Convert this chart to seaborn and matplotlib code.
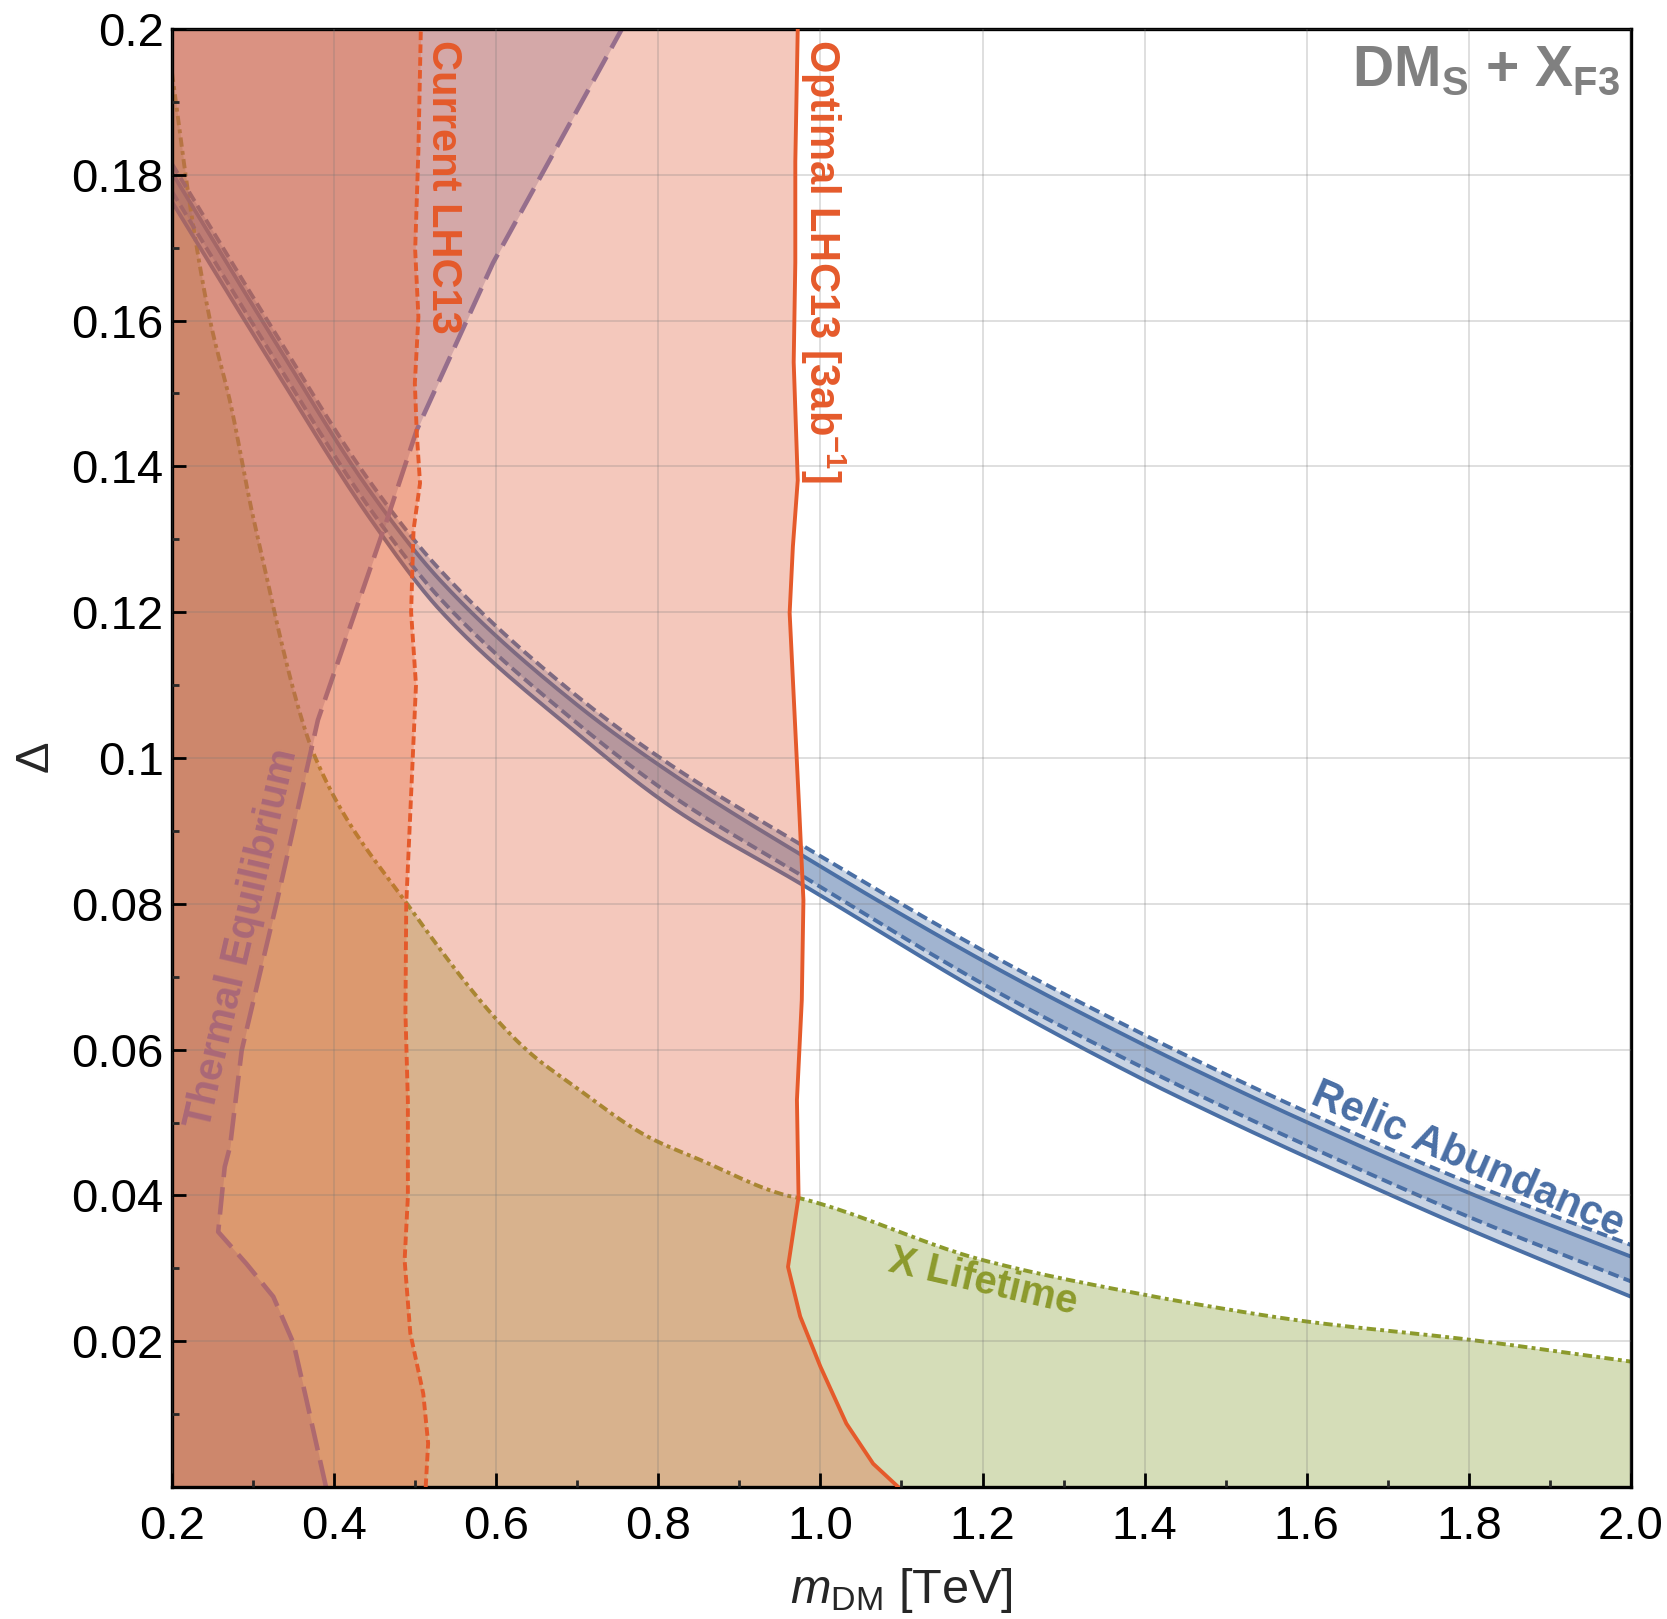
import numpy as np
import matplotlib
matplotlib.use("Agg")
import matplotlib.pyplot as plt
import seaborn as sns

# ---- data ----
# X lifetime boundary: Delta as a function of m_DM (region below is excluded)
life_m = [0.2, 0.222, 0.247, 0.272, 0.300, 0.377, 0.49, 0.637, 0.696, 0.788,
          0.851, 0.958, 0.975, 1.201, 1.403, 1.468, 1.600, 1.801, 2.0]
life_delta = [0.194, 0.176, 0.160, 0.1487, 0.1331, 0.100, 0.080, 0.060, 0.055, 0.048,
              0.0449, 0.040, 0.0396, 0.0311, 0.0263, 0.025, 0.0227, 0.0202, 0.0172]

# relic abundance bands (two bands: solid-edged and dashed-edged)
relic_m = [0.2, 0.3234, 0.4467, 0.5306, 0.6951, 0.8185, 0.978, 1.2215, 1.400,
           1.468, 1.591, 1.801, 2.0]
relic_dash_top = [0.1815, 0.1590, 0.1375, 0.1258, 0.1089, 0.0988, 0.0880, 0.0723,
                  0.0620, 0.0583, 0.0519, 0.0417, 0.0332]
relic_solid_top = [0.1803, 0.1578, 0.1362, 0.1244, 0.1077, 0.0977, 0.0866, 0.0709,
                   0.0606, 0.0569, 0.0505, 0.0403, 0.0316]
relic_dash_bot = [0.1777, 0.1553, 0.1338, 0.1219, 0.1052, 0.0947, 0.0838, 0.0677,
                  0.0574, 0.0537, 0.0473, 0.0370, 0.0282]
relic_solid_bot = [0.1763, 0.1540, 0.1325, 0.1203, 0.1038, 0.0931, 0.0826, 0.0664,
                   0.0558, 0.0521, 0.0457, 0.0353, 0.0261]

# optimal LHC13 [3ab^-1] reach: m_DM as a function of Delta (left side excluded)
opt_delta = [0.0, 0.0032, 0.0087, 0.0165, 0.0234, 0.0302, 0.0398, 0.0531, 0.0668,
             0.0805, 0.0925, 0.1062, 0.1199, 0.129, 0.1381, 0.1543, 0.168, 0.1818, 0.2]
opt_m = [1.096, 1.065, 1.032, 1.000, 0.975, 0.960, 0.973, 0.971, 0.977,
         0.979, 0.974, 0.968, 0.962, 0.966, 0.972, 0.967, 0.969, 0.969, 0.972]

# current LHC13 bound
cur_delta = [0.0, 0.006, 0.0128, 0.0211, 0.0311, 0.0398, 0.053, 0.065, 0.08, 0.09,
             0.10, 0.11, 0.12, 0.1313, 0.1377, 0.1445, 0.1514, 0.1605, 0.1697, 0.1834, 0.2]
cur_m = [0.513, 0.516, 0.510, 0.494, 0.487, 0.491, 0.491, 0.488, 0.489, 0.493,
         0.497, 0.501, 0.495, 0.498, 0.506, 0.502, 0.4996, 0.504, 0.500, 0.504, 0.507]

# thermal equilibrium boundary
therm_delta = [0.0, 0.0119, 0.0197, 0.0261, 0.0306, 0.035, 0.0439, 0.0467, 0.0599,
               0.0801, 0.1052, 0.1326, 0.145, 0.1679, 0.2]
therm_m = [0.390, 0.366, 0.350, 0.325, 0.292, 0.257, 0.265, 0.2716, 0.286,
           0.329, 0.380, 0.465, 0.502, 0.596, 0.755]

x_ticks = [0.2, 0.4, 0.6, 0.8, 1.0, 1.2, 1.4, 1.6, 1.8, 2.0]
x_ticklabels = ["0.2", "0.4", "0.6", "0.8", "1.0", "1.2", "1.4", "1.6", "1.8", "2.0"]
y_ticks = [0.02, 0.04, 0.06, 0.08, 0.10, 0.12, 0.14, 0.16, 0.18, 0.20]
y_ticklabels = ["0.02", "0.04", "0.06", "0.08", "0.1", "0.12", "0.14", "0.16", "0.18", "0.2"]

# ---- colours ----
c_life_line = "#8c9a2c"
c_life_fill = "#98aa4e"
c_relic = "#4a6fa5"
c_lhc_line = "#e55a2b"
c_opt_fill = "#e0623f"
c_cur_fill = "#e8602c"
c_therm_fill = "#996d83"
c_therm_line = "#966e8c"


def smooth(x, y, n=25):
    # monotone cubic (pchip-style) curve through the read points, for drawing only
    x = np.asarray(x, float)
    y = np.asarray(y, float)
    h = np.diff(x)
    d = np.diff(y) / h
    m = np.zeros_like(y)
    m[0], m[-1] = d[0], d[-1]
    for k in range(1, len(x) - 1):
        if d[k - 1] * d[k] > 0:
            w1 = 2 * h[k] + h[k - 1]
            w2 = h[k] + 2 * h[k - 1]
            m[k] = (w1 + w2) / (w1 / d[k - 1] + w2 / d[k])
    xs, ys = [], []
    for k in range(len(x) - 1):
        t = np.linspace(0, 1, n, endpoint=(k == len(x) - 2))
        h00 = 2 * t**3 - 3 * t**2 + 1
        h10 = t**3 - 2 * t**2 + t
        h01 = -2 * t**3 + 3 * t**2
        h11 = t**3 - t**2
        xs.append(x[k] + t * h[k])
        ys.append(h00 * y[k] + h10 * h[k] * m[k] + h01 * y[k + 1] + h11 * h[k] * m[k + 1])
    return np.concatenate(xs), np.concatenate(ys)


sns.set_theme(style="ticks")
plt.rcParams["font.family"] = ["Liberation Sans", "DejaVu Sans"]
plt.rcParams["mathtext.fontset"] = "custom"
plt.rcParams["mathtext.rm"] = "Liberation Sans"
plt.rcParams["mathtext.it"] = "Liberation Sans:italic"
plt.rcParams["mathtext.bf"] = "Liberation Sans:bold"

fig = plt.figure(figsize=(16.67, 16.19), dpi=100)
ax = fig.add_axes([0.10318, 0.08153, 0.87522, 0.90056])

lw = 2.8

# lifetime region (bottom layer)
lx, ly = smooth(life_m, life_delta)
ax.fill_between(lx, 0, ly, color=c_life_fill, alpha=0.4, lw=0, zorder=1)

# relic bands
rx, r_dt = smooth(relic_m, relic_dash_top)
_, r_st = smooth(relic_m, relic_solid_top)
_, r_db = smooth(relic_m, relic_dash_bot)
_, r_sb = smooth(relic_m, relic_solid_bot)
ax.fill_between(rx, r_sb, r_st, color=c_relic, alpha=0.3, lw=0, zorder=1.1)
ax.fill_between(rx, r_db, r_dt, color=c_relic, alpha=0.3, lw=0, zorder=1.1)

sns.lineplot(x=lx, y=ly, ax=ax, color=c_life_line, lw=lw, sort=False,
             estimator=None, linestyle=(0, (2.4, 1.1, 1.0, 1.1)), zorder=1.2)
for arr, ls in [(r_dt, (0, (2.8, 1.4))), (r_st, "-"), (r_db, (0, (2.8, 1.4))), (r_sb, "-")]:
    sns.lineplot(x=rx, y=arr, ax=ax, color=c_relic, lw=lw, sort=False,
                 estimator=None, linestyle=ls, zorder=1.3)

# LHC and thermal regions
ax.fill_betweenx(opt_delta, 0.0, opt_m, color=c_opt_fill, alpha=0.35, lw=0, zorder=1.4)
ax.fill_betweenx(therm_delta, 0.0, therm_m, color=c_therm_fill, alpha=0.35, lw=0, zorder=1.5)
sns.lineplot(x=therm_m, y=therm_delta, ax=ax, color=c_therm_line, lw=3.3, sort=False,
             estimator=None, linestyle=(0, (6, 2.2)), zorder=1.55)
ax.fill_betweenx(cur_delta, 0.0, cur_m, color=c_cur_fill, alpha=0.3, lw=0, zorder=1.6)

sns.lineplot(x=cur_m, y=cur_delta, ax=ax, color=c_lhc_line, lw=lw, sort=False,
             estimator=None, linestyle=(0, (2.2, 1.1)), zorder=3)
sns.lineplot(x=opt_m, y=opt_delta, ax=ax, color=c_lhc_line, lw=lw, sort=False,
             estimator=None, zorder=3)

# axes styling
ax.set_xlim(0.2, 2.0)
ax.set_ylim(0.0, 0.2)
ax.set_xticks(x_ticks)
ax.set_xticklabels(x_ticklabels)
ax.set_yticks(y_ticks)
ax.set_yticklabels(y_ticklabels)
ax.set_xticks([0.3, 0.5, 0.7, 0.9, 1.1, 1.3, 1.5, 1.7, 1.9], minor=True)
ax.set_yticks([0.01, 0.03, 0.05, 0.07, 0.09, 0.11, 0.13, 0.15, 0.17, 0.19], minor=True)
ax.tick_params(which="major", direction="in", length=10, width=2.0, labelsize=34,
               colors="black", top=False, right=False)
ax.tick_params(axis="x", which="major", pad=13)
ax.tick_params(axis="y", which="major", pad=6)
ax.tick_params(which="minor", direction="in", length=5, width=2.0, top=False, right=False)
for sp in ax.spines.values():
    sp.set_linewidth(2.4)
    sp.set_color("black")
ax.set_axisbelow(False)
ax.grid(True, which="major", color="#777777", alpha=0.28, lw=1.2)
ax.set_facecolor("white")

ax.set_xlabel(r"$m_{\rm DM}$ [TeV]", fontsize=35, va="top")
ax.xaxis.set_label_coords(0.5, -0.054)
ax.set_ylabel(r"$\Delta$", fontsize=34, rotation=90, va="center")
ax.yaxis.set_label_coords(-0.0925, 0.5)

# labels in the plot
ax.text(0.5343, 0.1985, "Current LHC13", color=c_lhc_line, fontsize=30, fontweight="bold",
        rotation=-90, ha="center", va="top", zorder=5)
ax.text(1.0032, 0.1986, r"Optimal LHC13 [3ab$^{\mathbf{-1}}$]", color=c_lhc_line, fontsize=30,
        fontweight="bold", rotation=-90, ha="center", va="top", zorder=5)
ax.text(0.287, 0.0752, "Thermal Equilibrium", color="#aa6878", fontsize=29, fontweight="bold",
        rotation=77, rotation_mode="anchor", ha="center", va="center", zorder=5)
ax.text(1.201, 0.0282, "X Lifetime", color=c_life_line, fontsize=29, fontweight="bold",
        rotation=-13, rotation_mode="anchor", ha="center", va="center", zorder=5)
ax.text(1.798, 0.0449, "Relic Abundance", color=c_relic, fontsize=30, fontweight="bold",
        rotation=-23.5, rotation_mode="anchor", ha="center", va="center", zorder=5)
ax.text(0.9925, 0.99, r"DM$_\mathbf{S}$ + X$_\mathbf{F3}$", color="#808080", fontsize=41,
        fontweight="bold", transform=ax.transAxes, ha="right", va="top", zorder=5)

fig.savefig("out.png", dpi=100)
